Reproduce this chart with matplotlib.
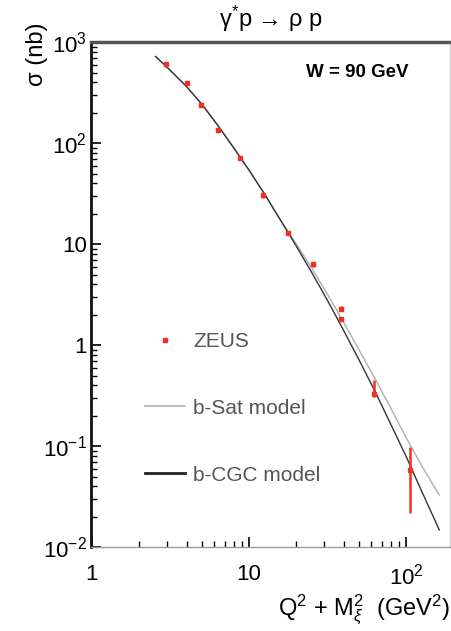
import numpy as np
import matplotlib
matplotlib.use('Agg')
import matplotlib.pyplot as plt
from matplotlib.lines import Line2D
from matplotlib.ticker import FixedLocator, FixedFormatter, LogLocator, NullFormatter

plt.rcParams['font.family'] = ['Liberation Sans', 'DejaVu Sans']
plt.rcParams['mathtext.fontset'] = 'custom'
plt.rcParams['mathtext.rm'] = 'Liberation Sans'
plt.rcParams['mathtext.it'] = 'Liberation Sans:italic'

# ZEUS data
zeus_x = [2.94, 4.0, 4.92, 6.33, 8.75, 12.3, 17.8, 25.3, 38.3, 38.3, 62.3, 105.0]
zeus_y = [605, 393, 238, 134, 71, 30.5, 12.9, 6.3, 2.3, 1.81, 0.33, 0.058]
zeus_lo = [30, 15, 10, 6, 3, 1.5, 0.7, 0.35, 0.12, 0.09, 0.02, 0.036]
zeus_hi = [30, 15, 10, 6, 3, 1.5, 0.7, 0.35, 0.12, 0.09, 0.12, 0.040]

# model curves
model_x = [2.54, 3.16, 3.98, 5.01, 6.31, 7.94, 10.0, 12.6, 15.8, 20.0, 25.1, 31.6, 39.8,
           50.1, 63.1, 79.4, 100.0, 125.9, 162.0]
cgc_y = [724, 525, 367, 243, 151, 91, 54, 31, 17.4, 9.5, 5.2, 2.75, 1.41,
         0.71, 0.35, 0.166, 0.078, 0.035, 0.0148]
sat_y = [724, 525, 367, 243, 151, 91, 54, 31, 17.4, 10.0, 5.75, 3.16, 1.70,
         0.89, 0.47, 0.24, 0.12, 0.063, 0.0327]

xticks = [1, 10, 100]
xticklabels = ['1', '10', '10$^2$']
yticks = [1e-2, 1e-1, 1, 10, 100, 1000]
yticklabels = ['10$^{-2}$', '10$^{-1}$', '1', '10', '10$^2$', '10$^3$']

fig = plt.figure(figsize=(4.52, 6.31), dpi=100)
ax = fig.add_axes([0.201, 0.133, 0.795, 0.800])

ax.plot(model_x, sat_y, color='#b0b0b0', lw=1.0)
ax.plot(model_x, cgc_y, color='#333333', lw=1.0)
ax.errorbar(zeus_x, zeus_y, yerr=[zeus_lo, zeus_hi], fmt='s', color='#f03020',
            ms=3.5, elinewidth=1.8, capsize=0)

ax.set_xscale('log')
ax.set_yscale('log')
ax.set_xlim(0.985, 190)
ax.set_ylim(1e-2, 1e3)

ax.xaxis.set_major_locator(FixedLocator(xticks))
ax.xaxis.set_major_formatter(FixedFormatter(xticklabels))
ax.xaxis.set_minor_locator(LogLocator(base=10, subs=np.arange(2, 10), numticks=20))
ax.xaxis.set_minor_formatter(NullFormatter())
ax.yaxis.set_major_locator(FixedLocator(yticks))
ax.yaxis.set_major_formatter(FixedFormatter(yticklabels))
ax.yaxis.set_minor_locator(LogLocator(base=10, subs=np.arange(2, 10), numticks=20))
ax.yaxis.set_minor_formatter(NullFormatter())
ax.tick_params(which='both', direction='in', top=False, right=False, labelsize=16)
ax.tick_params(which='major', length=7, width=1.2)
ax.tick_params(which='minor', length=4, width=1.0)
ax.tick_params(axis='x', pad=12)
ax.tick_params(axis='y', pad=3)

ax.spines['left'].set_linewidth(2.0)
ax.spines['left'].set_color('#111111')
ax.spines['top'].set_linewidth(2.5)
ax.spines['top'].set_color('#555555')
ax.spines['bottom'].set_linewidth(1.0)
ax.spines['bottom'].set_color('#999999')
ax.spines['right'].set_linewidth(1.0)
ax.spines['right'].set_color('#cccccc')

ax.set_title('γ$^{*}$p → ρ p', fontsize=17, pad=11)
ax.text(0.74, 0.94, 'W = 90 GeV', transform=ax.transAxes, ha='center', va='center',
        fontsize=13.5, fontweight='bold')
ax.set_ylabel('σ (nb)', fontsize=17, loc='top')
ax.yaxis.set_label_coords(-0.12, 1.04)
ax.set_xlabel(r'Q$^2$ + M$_\xi^2$  (GeV$^2$)', fontsize=17, loc='right', labelpad=2)

handles = [Line2D([], [], ls='none', marker='s', ms=3, color='#f03020'),
           Line2D([], [], color='#b0b0b0', lw=1.2),
           Line2D([], [], color='#222222', lw=2.0)]
labels = ['ZEUS', 'b-Sat model', 'b-CGC model']
ax.legend(handles, labels, loc='lower left', bbox_to_anchor=(0.122, 0.103), frameon=False,
          fontsize=15, labelspacing=2.3, handlelength=1.9, handletextpad=0.4,
          borderpad=0, labelcolor='#555555')

fig.savefig('out.png', dpi=100)
